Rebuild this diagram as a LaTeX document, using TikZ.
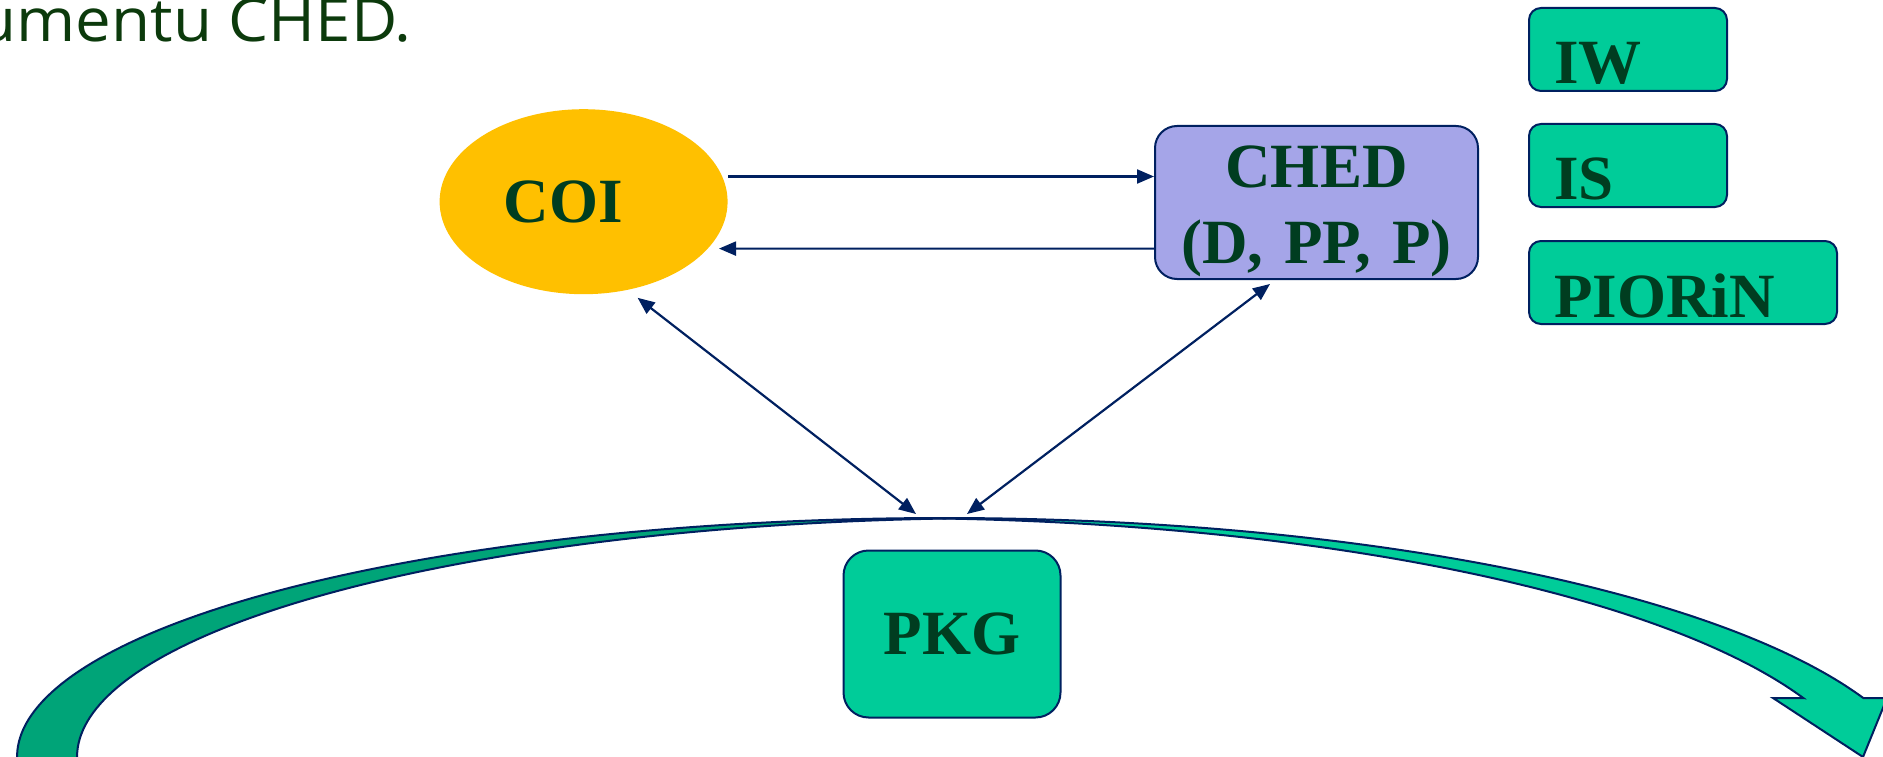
\documentclass[tikz,border=0pt]{standalone}
\usepackage{fontspec}
\setmainfont{Liberation Serif}
\newfontfamily\slidefont[FakeStretch=1.06]{Open Sans}
\usetikzlibrary{arrows.meta,shapes.geometric,calc}
\definecolor{navy}{RGB}{0,32,96}
\definecolor{txtgreen}{RGB}{0,61,32}
\definecolor{titlegreen}{RGB}{12,58,12}
\definecolor{boxgreen}{RGB}{0,204,153}
\definecolor{backgreen}{RGB}{0,164,120}
\definecolor{chedfill}{RGB}{165,165,232}
\definecolor{coifill}{RGB}{255,192,0}
\begin{document}
\begin{tikzpicture}[x=1pt,y=-1pt,
  boldtxt/.style={font=\fontsize{63}{77}\selectfont\bfseries, text=txtgreen},
  conn/.style={draw=navy, line width=2.2pt},
  tipend/.style={-{Triangle[length=17pt,width=14pt]}},
  tipboth/.style={{Triangle[length=17pt,width=14pt]}-{Triangle[length=17pt,width=14pt]}},
  sidebox/.style={draw=navy, line width=2pt, fill=boxgreen, rounded corners=12pt,
    inner xsep=25pt, inner ysep=0pt, text height=76pt, text depth=7pt,
    align=left, anchor=north west, boldtxt},
  band/.style={draw=navy, line width=2pt}
]
\useasboundingbox (0,0) rectangle (1883,757);

% title fragment
\node[font=\slidefont\fontsize{60}{64}\selectfont, text=titlegreen, anchor=base east, inner sep=0pt] (title) at (412,42) {umentu CHED.};

% big curved arrow
\begin{scope}
\clip (0,0) rectangle (1883,757);
\fill[backgreen, band]
  plot[domain=185:88.15, samples=90, variable=\t] ({945+928*cos(\t)},{757-239*sin(\t)})
  -- plot[domain=91.85:185, samples=90, variable=\t] ({1005+928*cos(\t)},{757-239*sin(\t)})
  -- cycle;
\fill[boxgreen, band]
  plot[domain=91.75:21.2, samples=100, variable=\t] ({945+985*cos(\t)},{800-282*sin(\t)})
  -- (1887,698) -- (1863,757) -- (1773,698) -- (1803,698)
  -- plot[domain=21.2:88.25, samples=100, variable=\t] ({885+985*cos(\t)},{800-282*sin(\t)})
  -- cycle;
\end{scope}
\coordinate (arctop) at (945,518);

% nodes
\node[ellipse, fill=coifill, minimum width=288pt, minimum height=185pt, inner sep=0pt, boldtxt] (COI) at (583.6,201.7) {COI\hspace*{41pt}};

\node[draw=navy, line width=2pt, fill=chedfill, rounded corners=22pt, boldtxt, align=center,
  text width=323pt, inner sep=0pt, text height=61pt, text depth=92pt, anchor=north west] (CHED) at (1154,125) {CHED\\(D, PP, P)};

\node[draw=navy, line width=2pt, fill=boxgreen, rounded corners=25pt, minimum width=217pt, minimum height=167pt, inner sep=0pt, boldtxt] (PKG) at (952,634) {PKG};

\node[sidebox, text width=148pt] (IW) at (1528,7) {IW};
\node[sidebox, text width=148pt] (IS) at (1528,123) {IS};
\node[sidebox, text width=258pt] (PIORiN) at (1528,240) {PIORiN};

% connectors
\draw[conn, tipend] ($(COI.center)+(144.4,-25.2)$) -- (CHED.west |- 0,176.5);
\draw[conn, tipend] (CHED.west |- 0,248.6) -- ($(COI.center)+(135.4,46.9)$);
\draw[conn, tipboth] ($(COI.center)+(54,96.1)$) -- ($(arctop)+(-29,-4)$);
\draw[conn, tipboth] ($(CHED.south)+(-46.5,4)$) -- ($(arctop)+(22,-4)$);
\end{tikzpicture}
\end{document}
